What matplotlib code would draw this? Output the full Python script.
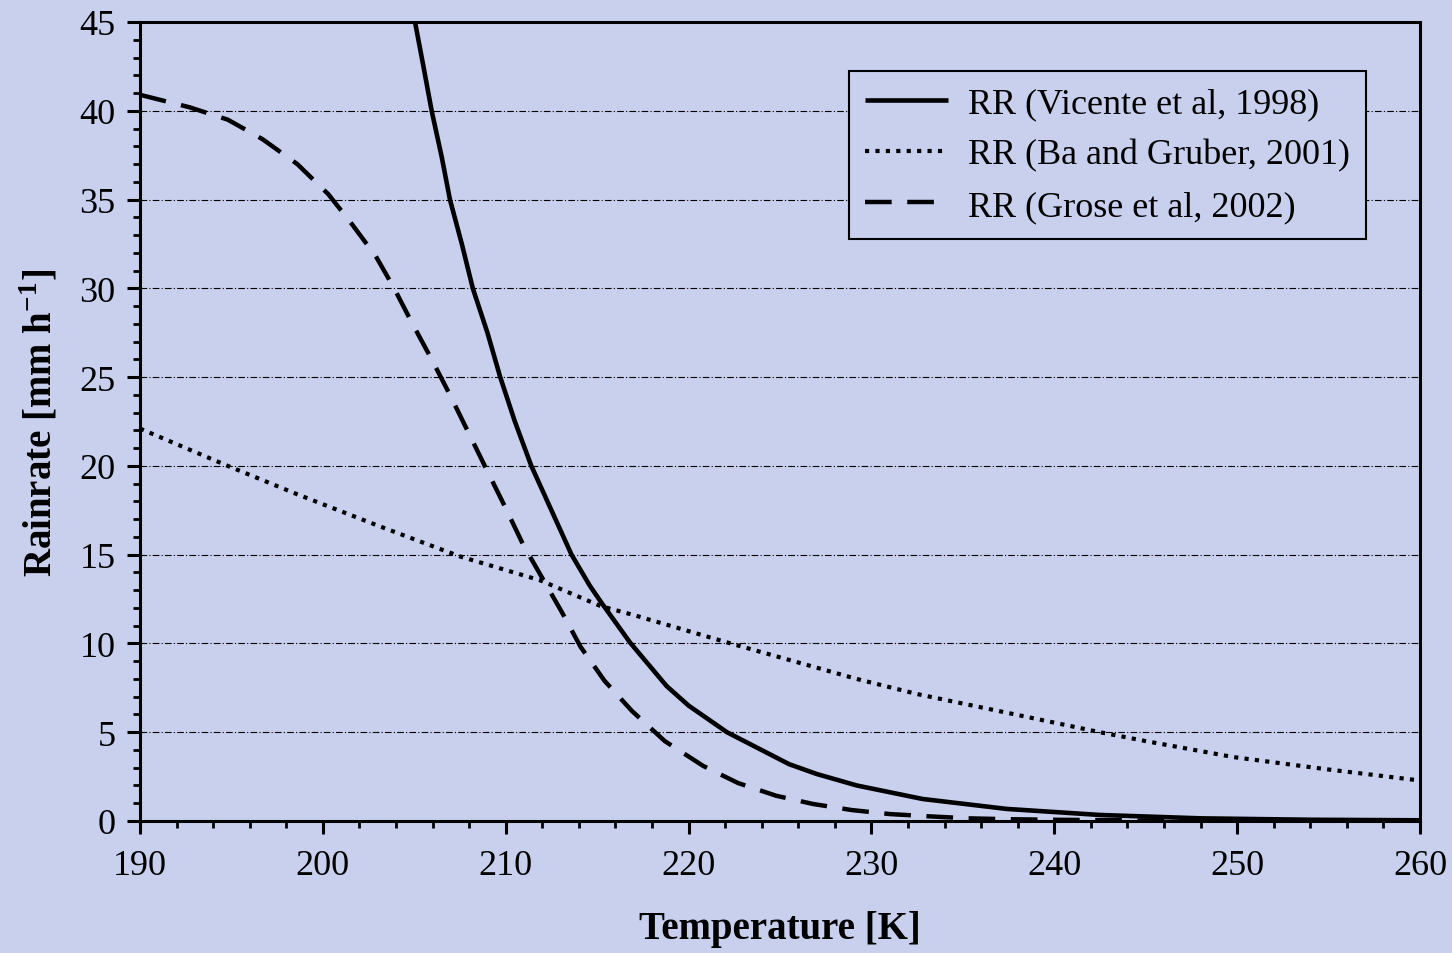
import numpy as np
import matplotlib as mpl
mpl.use('Agg')
import matplotlib.pyplot as plt
from matplotlib.ticker import MultipleLocator

mpl.rcParams['font.family'] = ['Liberation Serif', 'DejaVu Serif']
mpl.rcParams['mathtext.fontset'] = 'custom'
mpl.rcParams['mathtext.rm'] = 'Liberation Serif'
mpl.rcParams['mathtext.bf'] = 'Liberation Serif:bold'

# values
t_vicente = [205.04, 205.5, 205.95, 206.5, 206.95, 207.6, 208.2, 209.0, 209.7,
             210.5, 211.4, 212.5, 213.6, 214.6, 215.3, 216.8, 218.8, 220.0,
             222.1, 225.5, 227.0, 229.2, 232.8, 237.4, 242.5, 248, 254, 260]
rr_vicente = [45, 42.5, 40, 37.4, 35, 32.5, 30, 27.5, 25,
              22.5, 20, 17.5, 15, 13.25, 12.2, 10.05, 7.6, 6.5,
              5.0, 3.2, 2.65, 2.0, 1.24, 0.68, 0.34, 0.15, 0.07, 0.04]

t_ba = [190, 194.8, 198.6, 203.1, 207.5, 211.9, 215.2, 217, 222.3, 229.2,
        232.5, 237.4, 242.5, 245, 249.8, 255, 260]
rr_ba = [22.1, 20.0, 18.4, 16.6, 14.9, 13.55, 12.1, 11.6, 10.0, 8.0,
         7.15, 6.1, 5.0, 4.5, 3.6, 2.9, 2.28]

t_grose = [190, 192.7, 194.8, 196.7, 198.6, 200.3, 201.6, 202.9, 203.9, 204.9,
           205.95, 206.95, 207.95, 208.95, 209.96, 210.96, 213.05, 214.1, 215.4,
           216.9, 218.7, 220.8, 222.7, 224.8, 226.8, 228.9, 231.0, 233.2, 235.3,
           237.5, 240, 245, 250, 260]
rr_grose = [40.9, 40.2, 39.5, 38.4, 37.0, 35.3, 33.6, 31.8, 30.0, 28.0,
            26.0, 24.0, 21.9, 19.8, 17.7, 15.55, 11.8, 9.8, 7.9,
            6.2, 4.5, 3.1, 2.14, 1.42, 0.96, 0.62, 0.39, 0.26, 0.15,
            0.1, 0.07, 0.03, 0.01, 0.0]

labels = ['RR (Vicente et al, 1998)', 'RR (Ba and Gruber, 2001)',
          'RR (Grose et al, 2002)']

bg = '#c8d0ee'
fig = plt.figure(figsize=(14.52, 9.54), dpi=100, facecolor=bg)
ax = fig.add_axes([140/1452, 1-822/954, 1280/1452, 799/954])
ax.set_facecolor(bg)

ax.plot(t_vicente, rr_vicente, c='k', lw=3.3, ls='-', label=labels[0],
        solid_capstyle='butt', solid_joinstyle='round', zorder=4)
ax.plot(t_ba, rr_ba, c='k', lw=3, ls=(0, (1, 1.5)), label=labels[1],
        dash_capstyle='butt', zorder=4)
ax.plot(t_grose, rr_grose, c='k', lw=3.2, ls=(0, (6, 3.5)), label=labels[2],
        dash_capstyle='butt', zorder=4)

ax.set_xlim(190, 260)
ax.set_ylim(0, 45)
ax.xaxis.set_major_locator(MultipleLocator(10))
ax.xaxis.set_minor_locator(MultipleLocator(2))
ax.yaxis.set_major_locator(MultipleLocator(5))
ax.yaxis.set_minor_locator(MultipleLocator(1))
ax.yaxis.grid(True, which='major', color='k', lw=0.8, ls=(0, (6, 2, 1, 2)))
ax.set_axisbelow(True)

for s in ax.spines.values():
    s.set_linewidth(2.2)
ax.tick_params(which='major', direction='out', length=9.5, width=2.2,
               labelsize=26, pad=8)
ax.tick_params(axis='x', which='major', pad=11)
ax.tick_params(which='minor', direction='out', length=5, width=2)

ax.set_xlabel('Temperature [K]', fontsize=28, fontweight='bold', labelpad=20)
ax.set_ylabel(r'Rainrate [mm h$^{\mathbf{-1}}$]', fontsize=28,
              fontweight='bold', labelpad=14)

leg = ax.legend(loc='upper right', bbox_to_anchor=(0.958, 0.939), fontsize=26,
                handlelength=2.3, handletextpad=0.55, labelspacing=0.5,
                borderpad=0.45, borderaxespad=0, fancybox=False,
                framealpha=1, facecolor=bg, edgecolor='k')
leg.get_frame().set_linewidth(1.5)

fig.savefig('out.png', dpi=100, facecolor=bg)
